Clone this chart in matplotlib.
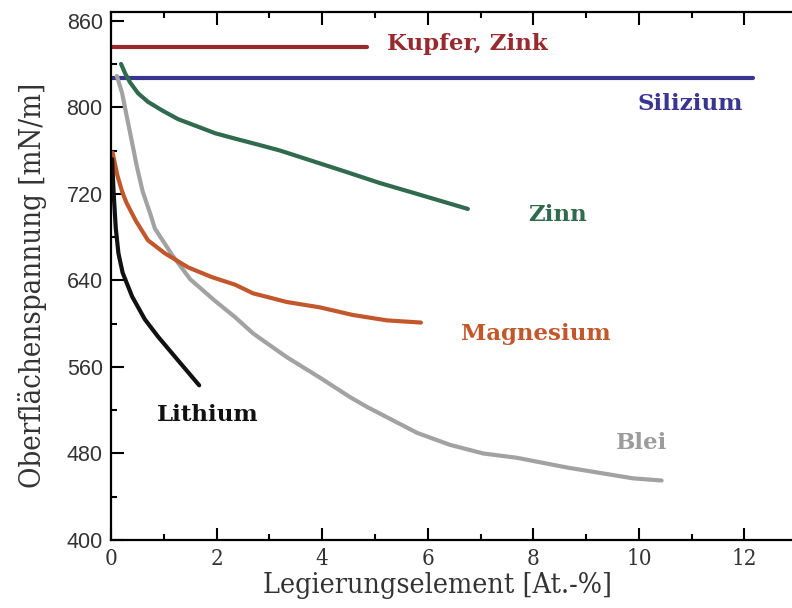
import numpy as np
import matplotlib
matplotlib.use('Agg')
import matplotlib.pyplot as plt
from matplotlib.ticker import FixedLocator, MultipleLocator

# Werte (x in At.-%, y in mN/m)
kupfer_x = [0.0, 4.85]
kupfer_y = [856, 856]

silizium_x = [0.0, 12.16]
silizium_y = [827, 827]

zinn_x = [0.19, 0.27, 0.36, 0.51, 0.70, 0.97, 1.27, 1.65, 1.97, 2.35, 2.82, 3.20,
          4.47, 5.09, 5.72, 6.76]
zinn_y = [840, 831, 823, 813, 805, 797, 789, 782, 776, 771, 765, 760,
          740, 730, 721, 706]

blei_x = [0.11, 0.21, 0.30, 0.40, 0.49, 0.60, 0.74, 0.83, 1.15, 1.50, 1.97, 2.35,
          2.69, 2.95, 3.33, 3.96, 4.53, 4.85, 5.80, 6.42, 7.05, 7.69, 8.64, 9.89, 10.43]
blei_y = [829, 813, 791, 767, 745, 722, 702, 688, 664, 641, 621, 606,
          591, 582, 569, 550, 532, 523, 499, 488, 480, 476, 467, 457, 455]

magnesium_x = [0.03, 0.12, 0.21, 0.29, 0.47, 0.70, 1.02, 1.46, 1.91, 2.35, 2.69,
               3.33, 3.96, 4.58, 5.23, 5.87]
magnesium_y = [758, 737, 722, 712, 695, 677, 665, 652, 643, 636, 628,
               620, 615, 608, 603, 601]

lithium_x = [0.02, 0.05, 0.09, 0.14, 0.22, 0.40, 0.64, 0.89, 1.27, 1.67]
lithium_y = [752, 720, 688, 665, 647, 625, 604, 588, 566, 543]

y_ticks = [400, 480, 560, 640, 720, 800, 880]
y_labels = ['400', '480', '560', '640', '720', '800', '860']
x_ticks = [0, 2, 4, 6, 8, 10, 12]

fig = plt.figure(figsize=(7.92, 6.08), dpi=100)
ax = fig.add_axes([0.1402, 0.1118, 0.8598, 0.8684])

lw = 3.0
ax.plot(kupfer_x, kupfer_y, color='#972a2e', lw=lw, solid_capstyle='round')
ax.plot(silizium_x, silizium_y, color='#3a3690', lw=lw, solid_capstyle='round')
ax.plot(zinn_x, zinn_y, color='#2f6b4c', lw=lw, solid_capstyle='round', solid_joinstyle='round')
ax.plot(blei_x, blei_y, color='#a2a2a2', lw=lw, solid_capstyle='round', solid_joinstyle='round')
ax.plot(magnesium_x, magnesium_y, color='#c2572b', lw=lw, solid_capstyle='round', solid_joinstyle='round')
ax.plot(lithium_x, lithium_y, color='#111111', lw=lw, solid_capstyle='round', solid_joinstyle='round')

# Beschriftungen der Kurven
lab = dict(family='DejaVu Serif', fontweight='bold', fontsize=16.5, va='center', ha='center')
ax.text(6.75, 858, 'Kupfer, Zink', color='#972a2e', **lab)
ax.text(10.97, 803, 'Silizium', color='#3a3690', **lab)
ax.text(8.46, 700, 'Zinn', color='#2f6b4c', **lab)
ax.text(8.05, 590, 'Magnesium', color='#c2572b', **lab)
ax.text(1.84, 516, 'Lithium', color='#111111', **lab)
ax.text(10.05, 490, 'Blei', color='#9c9c9c', **lab)

ax.set_xlim(0, 12.9)
ax.set_ylim(400, 888)

ax.yaxis.set_major_locator(FixedLocator(y_ticks))
ax.set_yticklabels(y_labels)
ax.yaxis.set_minor_locator(MultipleLocator(40))
ax.xaxis.set_major_locator(FixedLocator(x_ticks))
ax.xaxis.set_minor_locator(MultipleLocator(1))

ax.tick_params(which='both', direction='in', top=True, right=False, width=1.5)
ax.tick_params(which='major', length=9)
ax.tick_params(which='minor', length=4)
ax.tick_params(axis='y', labelsize=15.5, labelcolor='#333333', pad=6)
ax.tick_params(axis='x', labelsize=16, labelcolor='#333333', pad=6)
for t in ax.get_xticklabels():
    t.set_family('DejaVu Serif')
    t.set_fontstretch('condensed')
for t in ax.get_yticklabels():
    t.set_family('Liberation Sans')

for s in ['left', 'bottom', 'top']:
    ax.spines[s].set_linewidth(1.6)
ax.spines['right'].set_visible(False)

ax.set_xlabel('Legierungselement [At.-%]', fontsize=20.5, family='DejaVu Serif',
              fontstretch='condensed', color='#333333')
ax.set_ylabel('Oberflächenspannung [mN/m]', fontsize=21, family='DejaVu Serif',
              fontstretch='condensed', color='#333333')
ax.xaxis.set_label_coords(0.48, -0.06)
ax.yaxis.set_label_coords(-0.094, 0.483)

fig.savefig('out.png', dpi=100)
